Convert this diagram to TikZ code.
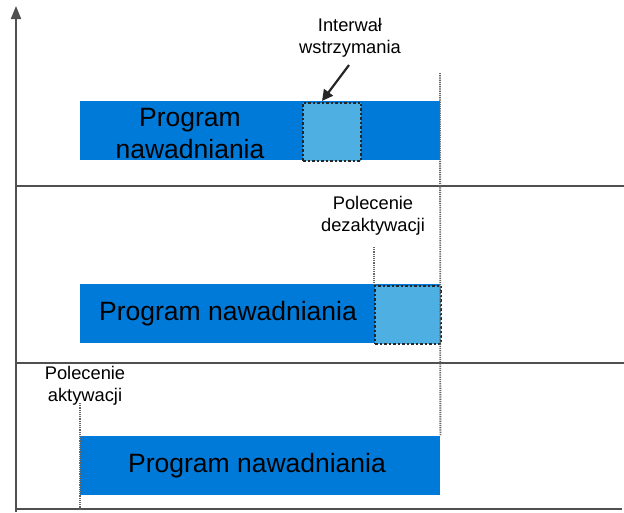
\documentclass[tikz,border=0pt]{standalone}
\usepackage{fontspec}
\setmainfont{Liberation Sans}
\usetikzlibrary{arrows.meta}
\definecolor{barblue}{RGB}{0,122,217}
\definecolor{lightblue}{RGB}{78,176,226}
\definecolor{axisgray}{RGB}{80,80,80}
\begin{document}
\begin{tikzpicture}[x=1pt,y=-1pt,
  axisline/.style={draw=axisgray,line width=2pt},
  bar/.style={fill=barblue,draw=none,inner sep=0pt},
  pausebox/.style={fill=lightblue,draw=black!85,line width=2pt,dash pattern=on 2.5pt off 2pt,inner sep=0pt},
  guide/.style={draw=black!60,line width=1.8pt,dash pattern=on 1.2pt off 1pt},
  big/.style={font=\fontsize{26.5}{32}\selectfont,align=center,inner sep=0pt},
  small/.style={font=\fontsize{18.3}{22}\selectfont,align=center,inner sep=0pt}]
\useasboundingbox (0,0) rectangle (624,512);
% axes and dividers
\coordinate (axtop) at (16,6);
\coordinate (axbot) at (16,512);
\coordinate (botL) at (16,509);
\coordinate (botR) at (622,509);
\coordinate (d1L) at (16,186);
\coordinate (d1R) at (624,186);
\coordinate (d2L) at (16,363);
\coordinate (d2R) at (624,363);
\draw[axisline,-{Triangle[length=13pt,width=10pt]}] (axbot) -- (axtop);
\draw[axisline] (botL) -- (botR);
\draw[axisline] (d1L) -- (d1R);
\draw[axisline] (d2L) -- (d2R);
% top panel
\node[bar,minimum width=360pt,minimum height=59pt,anchor=north west] (bar1) at (80,101) {};
\node[pausebox,minimum width=58pt,minimum height=58pt,anchor=north west] (pause1) at (302,101.5) {};
\node[big] (txt1) at (190,134) {Program\\nawadniania};
\node[small] (lab1) at (350,38) {Interwał\\wstrzymania};
\coordinate (arrStart) at (349,65);
\draw[draw=black!85,line width=2.2pt,-{Triangle[length=11pt,width=11pt]}] (arrStart) -- (322,101);
% middle panel
\node[bar,minimum width=360pt,minimum height=59pt,anchor=north west] (bar2) at (80,284) {};
\node[pausebox,minimum width=66pt,minimum height=58pt,anchor=north west] (pause2) at (374,284.5) {};
\node[big] (txt2) at (228,314) {Program nawadniania};
\node[small] (lab2) at (373,216) {Polecenie\\dezaktywacji};
\coordinate (g2top) at (374,247);
\draw[guide] (g2top) -- (pause2.north west);
% bottom panel
\node[bar,minimum width=360pt,minimum height=59pt,anchor=north west] (bar3) at (80,436) {};
\node[big] (txt3) at (257,466) {Program nawadniania};
\node[small] (lab3) at (85,386) {Polecenie\\aktywacji};
\coordinate (g3top) at (80,403);
\coordinate (g3bot) at (80,509);
\draw[guide] (g3top) -- (g3bot);
% end guide
\coordinate (g1top) at (440,73);
\draw[guide] (g1top) -- (bar3.north east);
\end{tikzpicture}
\end{document}
